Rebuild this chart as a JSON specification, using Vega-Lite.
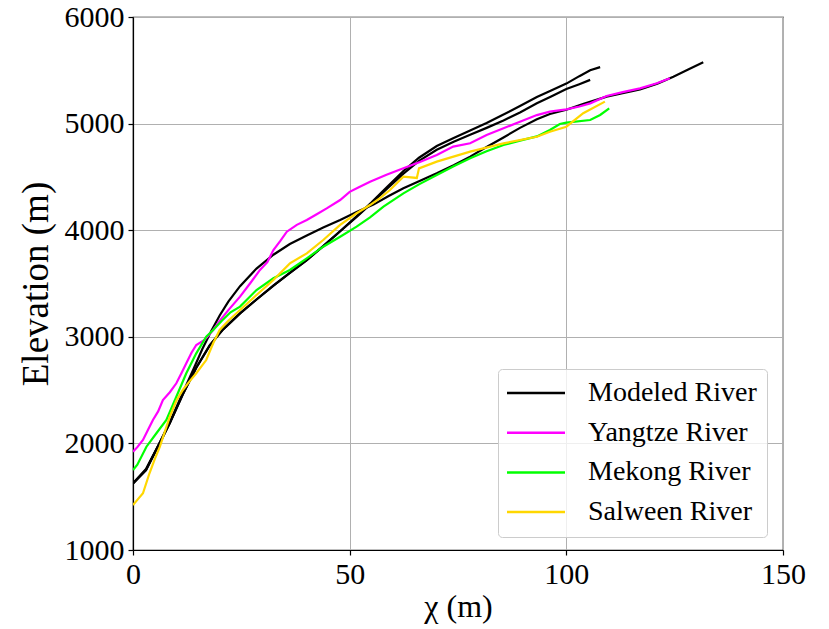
{
  "$schema": "https://vega.github.io/schema/vega-lite/v6.json",
  "width": 650,
  "height": 533,
  "autosize": {"type": "none"},
  "padding": {"left": 133, "top": 17, "right": 46, "bottom": 79},
  "background": "white",
  "config": {
    "font": "Times New Roman, Liberation Serif, serif",
    "view": {"stroke": "black", "strokeWidth": 1.2},
    "axis": {
      "domainColor": "black",
      "domainWidth": 1.2,
      "tickColor": "black",
      "tickSize": 5,
      "tickWidth": 1.2,
      "gridColor": "#b0b0b0",
      "gridWidth": 1,
      "labelColor": "black",
      "titleColor": "black",
      "labelFont": "Times New Roman, Liberation Serif, serif",
      "titleFont": "Times New Roman, Liberation Serif, serif",
      "labelFontSize": 30,
      "titleFontSize": 32,
      "titleFontWeight": "normal",
      "labelPadding": 4,
      "labelFlush": false,
      "labelOverlap": false
    },
    "legend": {
      "labelFont": "Times New Roman, Liberation Serif, serif",
      "labelFontSize": 28,
      "labelColor": "black",
      "labelLimit": 400
    }
  },
  "data": {
    "values": [
      {"s": "Modeled River", "c": "m1", "x": 0, "y": 1625},
      {"s": "Modeled River", "c": "m1", "x": 3, "y": 1760},
      {"s": "Modeled River", "c": "m1", "x": 6, "y": 1995},
      {"s": "Modeled River", "c": "m1", "x": 8.5, "y": 2200},
      {"s": "Modeled River", "c": "m1", "x": 11.5, "y": 2475},
      {"s": "Modeled River", "c": "m1", "x": 14, "y": 2700},
      {"s": "Modeled River", "c": "m1", "x": 16, "y": 2885},
      {"s": "Modeled River", "c": "m1", "x": 18, "y": 3050},
      {"s": "Modeled River", "c": "m1", "x": 20, "y": 3200},
      {"s": "Modeled River", "c": "m1", "x": 22, "y": 3330},
      {"s": "Modeled River", "c": "m1", "x": 24.7, "y": 3475},
      {"s": "Modeled River", "c": "m1", "x": 28.5, "y": 3640},
      {"s": "Modeled River", "c": "m1", "x": 32.4, "y": 3770},
      {"s": "Modeled River", "c": "m1", "x": 36.2, "y": 3870},
      {"s": "Modeled River", "c": "m1", "x": 40.1, "y": 3950},
      {"s": "Modeled River", "c": "m1", "x": 43.9, "y": 4025},
      {"s": "Modeled River", "c": "m1", "x": 47.8, "y": 4096},
      {"s": "Modeled River", "c": "m1", "x": 51.6, "y": 4170},
      {"s": "Modeled River", "c": "m1", "x": 55.5, "y": 4240},
      {"s": "Modeled River", "c": "m1", "x": 59, "y": 4320},
      {"s": "Modeled River", "c": "m1", "x": 62.4, "y": 4393},
      {"s": "Modeled River", "c": "m1", "x": 66, "y": 4460},
      {"s": "Modeled River", "c": "m1", "x": 70.1, "y": 4534},
      {"s": "Modeled River", "c": "m1", "x": 74, "y": 4610},
      {"s": "Modeled River", "c": "m1", "x": 77.8, "y": 4690},
      {"s": "Modeled River", "c": "m1", "x": 81.6, "y": 4780},
      {"s": "Modeled River", "c": "m1", "x": 85.5, "y": 4870},
      {"s": "Modeled River", "c": "m1", "x": 89.3, "y": 4960},
      {"s": "Modeled River", "c": "m1", "x": 93.2, "y": 5040},
      {"s": "Modeled River", "c": "m1", "x": 96.2, "y": 5090},
      {"s": "Modeled River", "c": "m1", "x": 100, "y": 5130},
      {"s": "Modeled River", "c": "m1", "x": 104, "y": 5185},
      {"s": "Modeled River", "c": "m1", "x": 109.3, "y": 5253},
      {"s": "Modeled River", "c": "m1", "x": 113, "y": 5285},
      {"s": "Modeled River", "c": "m1", "x": 117, "y": 5320},
      {"s": "Modeled River", "c": "m1", "x": 121, "y": 5375},
      {"s": "Modeled River", "c": "m1", "x": 124.7, "y": 5440},
      {"s": "Modeled River", "c": "m1", "x": 128, "y": 5505},
      {"s": "Modeled River", "c": "m1", "x": 131.6, "y": 5575},

      {"s": "Modeled River", "c": "m2", "x": 0, "y": 1625},
      {"s": "Modeled River", "c": "m2", "x": 3, "y": 1750},
      {"s": "Modeled River", "c": "m2", "x": 6, "y": 1990},
      {"s": "Modeled River", "c": "m2", "x": 8.5, "y": 2190},
      {"s": "Modeled River", "c": "m2", "x": 11.5, "y": 2460},
      {"s": "Modeled River", "c": "m2", "x": 14.6, "y": 2710},
      {"s": "Modeled River", "c": "m2", "x": 17.7, "y": 2920},
      {"s": "Modeled River", "c": "m2", "x": 20.8, "y": 3070},
      {"s": "Modeled River", "c": "m2", "x": 24.7, "y": 3220},
      {"s": "Modeled River", "c": "m2", "x": 28.5, "y": 3350},
      {"s": "Modeled River", "c": "m2", "x": 32.4, "y": 3480},
      {"s": "Modeled River", "c": "m2", "x": 36.2, "y": 3600},
      {"s": "Modeled River", "c": "m2", "x": 40.1, "y": 3720},
      {"s": "Modeled River", "c": "m2", "x": 43.9, "y": 3850},
      {"s": "Modeled River", "c": "m2", "x": 47.8, "y": 3990},
      {"s": "Modeled River", "c": "m2", "x": 51.6, "y": 4130},
      {"s": "Modeled River", "c": "m2", "x": 55, "y": 4260},
      {"s": "Modeled River", "c": "m2", "x": 58.5, "y": 4400},
      {"s": "Modeled River", "c": "m2", "x": 62.4, "y": 4555},
      {"s": "Modeled River", "c": "m2", "x": 66, "y": 4680},
      {"s": "Modeled River", "c": "m2", "x": 70.1, "y": 4790},
      {"s": "Modeled River", "c": "m2", "x": 74, "y": 4865},
      {"s": "Modeled River", "c": "m2", "x": 77.8, "y": 4935},
      {"s": "Modeled River", "c": "m2", "x": 81.6, "y": 5005},
      {"s": "Modeled River", "c": "m2", "x": 85.5, "y": 5085},
      {"s": "Modeled River", "c": "m2", "x": 89.3, "y": 5165},
      {"s": "Modeled River", "c": "m2", "x": 93.2, "y": 5250},
      {"s": "Modeled River", "c": "m2", "x": 96.5, "y": 5310},
      {"s": "Modeled River", "c": "m2", "x": 100, "y": 5375},
      {"s": "Modeled River", "c": "m2", "x": 103, "y": 5445},
      {"s": "Modeled River", "c": "m2", "x": 105.5, "y": 5500},
      {"s": "Modeled River", "c": "m2", "x": 107.8, "y": 5530},

      {"s": "Modeled River", "c": "m3", "x": 0, "y": 1625},
      {"s": "Modeled River", "c": "m3", "x": 3, "y": 1750},
      {"s": "Modeled River", "c": "m3", "x": 6, "y": 1990},
      {"s": "Modeled River", "c": "m3", "x": 8.5, "y": 2190},
      {"s": "Modeled River", "c": "m3", "x": 11.5, "y": 2460},
      {"s": "Modeled River", "c": "m3", "x": 14.6, "y": 2710},
      {"s": "Modeled River", "c": "m3", "x": 17.7, "y": 2920},
      {"s": "Modeled River", "c": "m3", "x": 20.8, "y": 3070},
      {"s": "Modeled River", "c": "m3", "x": 24.7, "y": 3220},
      {"s": "Modeled River", "c": "m3", "x": 28.5, "y": 3350},
      {"s": "Modeled River", "c": "m3", "x": 32.4, "y": 3480},
      {"s": "Modeled River", "c": "m3", "x": 36.2, "y": 3600},
      {"s": "Modeled River", "c": "m3", "x": 40.1, "y": 3720},
      {"s": "Modeled River", "c": "m3", "x": 43.9, "y": 3850},
      {"s": "Modeled River", "c": "m3", "x": 47.8, "y": 3990},
      {"s": "Modeled River", "c": "m3", "x": 51.6, "y": 4125},
      {"s": "Modeled River", "c": "m3", "x": 55, "y": 4250},
      {"s": "Modeled River", "c": "m3", "x": 58.5, "y": 4385},
      {"s": "Modeled River", "c": "m3", "x": 62.4, "y": 4530},
      {"s": "Modeled River", "c": "m3", "x": 66, "y": 4650},
      {"s": "Modeled River", "c": "m3", "x": 70.1, "y": 4755},
      {"s": "Modeled River", "c": "m3", "x": 74, "y": 4830},
      {"s": "Modeled River", "c": "m3", "x": 77.8, "y": 4895},
      {"s": "Modeled River", "c": "m3", "x": 81.6, "y": 4960},
      {"s": "Modeled River", "c": "m3", "x": 85.5, "y": 5030},
      {"s": "Modeled River", "c": "m3", "x": 89.3, "y": 5105},
      {"s": "Modeled River", "c": "m3", "x": 93.2, "y": 5190},
      {"s": "Modeled River", "c": "m3", "x": 96.5, "y": 5255},
      {"s": "Modeled River", "c": "m3", "x": 100, "y": 5325},
      {"s": "Modeled River", "c": "m3", "x": 103, "y": 5370},
      {"s": "Modeled River", "c": "m3", "x": 105.5, "y": 5410},

      {"s": "Yangtze River", "c": "y", "x": 0, "y": 1922},
      {"s": "Yangtze River", "c": "y", "x": 1, "y": 1965},
      {"s": "Yangtze River", "c": "y", "x": 2.3, "y": 2032},
      {"s": "Yangtze River", "c": "y", "x": 3.5, "y": 2130},
      {"s": "Yangtze River", "c": "y", "x": 4.6, "y": 2220},
      {"s": "Yangtze River", "c": "y", "x": 5.8, "y": 2300},
      {"s": "Yangtze River", "c": "y", "x": 6.9, "y": 2407},
      {"s": "Yangtze River", "c": "y", "x": 8.5, "y": 2480},
      {"s": "Yangtze River", "c": "y", "x": 10, "y": 2564},
      {"s": "Yangtze River", "c": "y", "x": 11.2, "y": 2660},
      {"s": "Yangtze River", "c": "y", "x": 12.3, "y": 2751},
      {"s": "Yangtze River", "c": "y", "x": 13.5, "y": 2850},
      {"s": "Yangtze River", "c": "y", "x": 14.6, "y": 2923},
      {"s": "Yangtze River", "c": "y", "x": 16.5, "y": 2970},
      {"s": "Yangtze River", "c": "y", "x": 18.5, "y": 3064},
      {"s": "Yangtze River", "c": "y", "x": 20, "y": 3150},
      {"s": "Yangtze River", "c": "y", "x": 22, "y": 3250},
      {"s": "Yangtze River", "c": "y", "x": 24.7, "y": 3377},
      {"s": "Yangtze River", "c": "y", "x": 27, "y": 3500},
      {"s": "Yangtze River", "c": "y", "x": 29.3, "y": 3627},
      {"s": "Yangtze River", "c": "y", "x": 31, "y": 3700},
      {"s": "Yangtze River", "c": "y", "x": 32.4, "y": 3814},
      {"s": "Yangtze River", "c": "y", "x": 34, "y": 3900},
      {"s": "Yangtze River", "c": "y", "x": 35.5, "y": 3986},
      {"s": "Yangtze River", "c": "y", "x": 37.8, "y": 4050},
      {"s": "Yangtze River", "c": "y", "x": 40.1, "y": 4096},
      {"s": "Yangtze River", "c": "y", "x": 42.4, "y": 4150},
      {"s": "Yangtze River", "c": "y", "x": 44.7, "y": 4205},
      {"s": "Yangtze River", "c": "y", "x": 47.8, "y": 4283},
      {"s": "Yangtze River", "c": "y", "x": 50, "y": 4360},
      {"s": "Yangtze River", "c": "y", "x": 52, "y": 4400},
      {"s": "Yangtze River", "c": "y", "x": 54.7, "y": 4455},
      {"s": "Yangtze River", "c": "y", "x": 58.5, "y": 4520},
      {"s": "Yangtze River", "c": "y", "x": 62.4, "y": 4581},
      {"s": "Yangtze River", "c": "y", "x": 66.2, "y": 4640},
      {"s": "Yangtze River", "c": "y", "x": 70.1, "y": 4706},
      {"s": "Yangtze River", "c": "y", "x": 73.9, "y": 4784},
      {"s": "Yangtze River", "c": "y", "x": 77.8, "y": 4815},
      {"s": "Yangtze River", "c": "y", "x": 81.6, "y": 4893},
      {"s": "Yangtze River", "c": "y", "x": 85.5, "y": 4956},
      {"s": "Yangtze River", "c": "y", "x": 89.3, "y": 5018},
      {"s": "Yangtze River", "c": "y", "x": 93.2, "y": 5080},
      {"s": "Yangtze River", "c": "y", "x": 96.2, "y": 5112},
      {"s": "Yangtze River", "c": "y", "x": 100, "y": 5134},
      {"s": "Yangtze River", "c": "y", "x": 103, "y": 5160},
      {"s": "Yangtze River", "c": "y", "x": 105.5, "y": 5190},
      {"s": "Yangtze River", "c": "y", "x": 109.3, "y": 5259},
      {"s": "Yangtze River", "c": "y", "x": 113, "y": 5295},
      {"s": "Yangtze River", "c": "y", "x": 117, "y": 5331},
      {"s": "Yangtze River", "c": "y", "x": 120.9, "y": 5378},
      {"s": "Yangtze River", "c": "y", "x": 123.9, "y": 5425},

      {"s": "Mekong River", "c": "g", "x": 0, "y": 1750},
      {"s": "Mekong River", "c": "g", "x": 1, "y": 1800},
      {"s": "Mekong River", "c": "g", "x": 3.1, "y": 1969},
      {"s": "Mekong River", "c": "g", "x": 5.4, "y": 2095},
      {"s": "Mekong River", "c": "g", "x": 7.7, "y": 2220},
      {"s": "Mekong River", "c": "g", "x": 10, "y": 2438},
      {"s": "Mekong River", "c": "g", "x": 12.3, "y": 2658},
      {"s": "Mekong River", "c": "g", "x": 14.6, "y": 2845},
      {"s": "Mekong River", "c": "g", "x": 16.9, "y": 3001},
      {"s": "Mekong River", "c": "g", "x": 18.5, "y": 3064},
      {"s": "Mekong River", "c": "g", "x": 20.5, "y": 3150},
      {"s": "Mekong River", "c": "g", "x": 22.5, "y": 3230},
      {"s": "Mekong River", "c": "g", "x": 24.7, "y": 3283},
      {"s": "Mekong River", "c": "g", "x": 28.5, "y": 3439},
      {"s": "Mekong River", "c": "g", "x": 32.4, "y": 3549},
      {"s": "Mekong River", "c": "g", "x": 36.2, "y": 3627},
      {"s": "Mekong River", "c": "g", "x": 40.1, "y": 3736},
      {"s": "Mekong River", "c": "g", "x": 43.9, "y": 3845},
      {"s": "Mekong River", "c": "g", "x": 47.8, "y": 3939},
      {"s": "Mekong River", "c": "g", "x": 51.6, "y": 4033},
      {"s": "Mekong River", "c": "g", "x": 54.7, "y": 4120},
      {"s": "Mekong River", "c": "g", "x": 57.8, "y": 4221},
      {"s": "Mekong River", "c": "g", "x": 62.4, "y": 4346},
      {"s": "Mekong River", "c": "g", "x": 66, "y": 4430},
      {"s": "Mekong River", "c": "g", "x": 70.1, "y": 4518},
      {"s": "Mekong River", "c": "g", "x": 74, "y": 4600},
      {"s": "Mekong River", "c": "g", "x": 77.8, "y": 4674},
      {"s": "Mekong River", "c": "g", "x": 81.6, "y": 4740},
      {"s": "Mekong River", "c": "g", "x": 85.5, "y": 4799},
      {"s": "Mekong River", "c": "g", "x": 89.3, "y": 4840},
      {"s": "Mekong River", "c": "g", "x": 93.2, "y": 4880},
      {"s": "Mekong River", "c": "g", "x": 96.2, "y": 4940},
      {"s": "Mekong River", "c": "g", "x": 98.5, "y": 4996},
      {"s": "Mekong River", "c": "g", "x": 100, "y": 5009},
      {"s": "Mekong River", "c": "g", "x": 105.5, "y": 5034},
      {"s": "Mekong River", "c": "g", "x": 107.8, "y": 5081},
      {"s": "Mekong River", "c": "g", "x": 109.9, "y": 5143},

      {"s": "Salween River", "c": "s", "x": 0, "y": 1422},
      {"s": "Salween River", "c": "s", "x": 1, "y": 1470},
      {"s": "Salween River", "c": "s", "x": 2.3, "y": 1532},
      {"s": "Salween River", "c": "s", "x": 3.8, "y": 1720},
      {"s": "Salween River", "c": "s", "x": 5, "y": 1850},
      {"s": "Salween River", "c": "s", "x": 6.2, "y": 1970},
      {"s": "Salween River", "c": "s", "x": 8.5, "y": 2251},
      {"s": "Salween River", "c": "s", "x": 10, "y": 2400},
      {"s": "Salween River", "c": "s", "x": 11.5, "y": 2501},
      {"s": "Salween River", "c": "s", "x": 13, "y": 2580},
      {"s": "Salween River", "c": "s", "x": 14.6, "y": 2658},
      {"s": "Salween River", "c": "s", "x": 16.9, "y": 2782},
      {"s": "Salween River", "c": "s", "x": 18.5, "y": 2939},
      {"s": "Salween River", "c": "s", "x": 20, "y": 3064},
      {"s": "Salween River", "c": "s", "x": 22, "y": 3150},
      {"s": "Salween River", "c": "s", "x": 24.7, "y": 3251},
      {"s": "Salween River", "c": "s", "x": 28.5, "y": 3392},
      {"s": "Salween River", "c": "s", "x": 32.4, "y": 3533},
      {"s": "Salween River", "c": "s", "x": 36.2, "y": 3689},
      {"s": "Salween River", "c": "s", "x": 40.1, "y": 3783},
      {"s": "Salween River", "c": "s", "x": 43.9, "y": 3908},
      {"s": "Salween River", "c": "s", "x": 47.8, "y": 4049},
      {"s": "Salween River", "c": "s", "x": 51.6, "y": 4159},
      {"s": "Salween River", "c": "s", "x": 54.7, "y": 4236},
      {"s": "Salween River", "c": "s", "x": 57, "y": 4300},
      {"s": "Salween River", "c": "s", "x": 59.3, "y": 4377},
      {"s": "Salween River", "c": "s", "x": 62.4, "y": 4502},
      {"s": "Salween River", "c": "s", "x": 65.5, "y": 4490},
      {"s": "Salween River", "c": "s", "x": 66, "y": 4580},
      {"s": "Salween River", "c": "s", "x": 70.1, "y": 4643},
      {"s": "Salween River", "c": "s", "x": 77.8, "y": 4737},
      {"s": "Salween River", "c": "s", "x": 85.5, "y": 4815},
      {"s": "Salween River", "c": "s", "x": 93.2, "y": 4877},
      {"s": "Salween River", "c": "s", "x": 96.2, "y": 4924},
      {"s": "Salween River", "c": "s", "x": 100, "y": 4971},
      {"s": "Salween River", "c": "s", "x": 103.9, "y": 5097},
      {"s": "Salween River", "c": "s", "x": 108.9, "y": 5206}
    ]
  },
  "mark": {"type": "line", "strokeWidth": 2.2, "clip": true},
  "encoding": {
    "x": {
      "field": "x",
      "type": "quantitative",
      "scale": {"domain": [0, 150], "nice": false, "zero": false},
      "axis": {"values": [0, 50, 100, 150], "format": "d", "title": "χ (m)", "titlePadding": 2}
    },
    "y": {
      "field": "y",
      "type": "quantitative",
      "scale": {"domain": [1000, 6000], "nice": false, "zero": false},
      "axis": {"values": [1000, 2000, 3000, 4000, 5000, 6000], "format": "d", "title": "Elevation (m)", "titleFontSize": 37, "titlePadding": 9}
    },
    "color": {
      "field": "s",
      "type": "nominal",
      "scale": {
        "domain": ["Modeled River", "Yangtze River", "Mekong River", "Salween River"],
        "range": ["#000000", "#ff00ff", "#00ff00", "#ffd700"]
      },
      "legend": {
        "title": null,
        "orient": "none",
        "legendX": 365,
        "legendY": 352,
        "padding": 10,
        "rowPadding": 11.7,
        "symbolType": "M-1.5,0H4.3",
        "symbolSize": 400,
        "symbolStrokeWidth": 2.5,
        "labelOffset": 52,
        "strokeColor": "#cccccc",
        "fillColor": "rgba(255,255,255,0.8)",
        "cornerRadius": 4
      }
    },
    "detail": {"field": "c", "type": "nominal"}
  }
}
